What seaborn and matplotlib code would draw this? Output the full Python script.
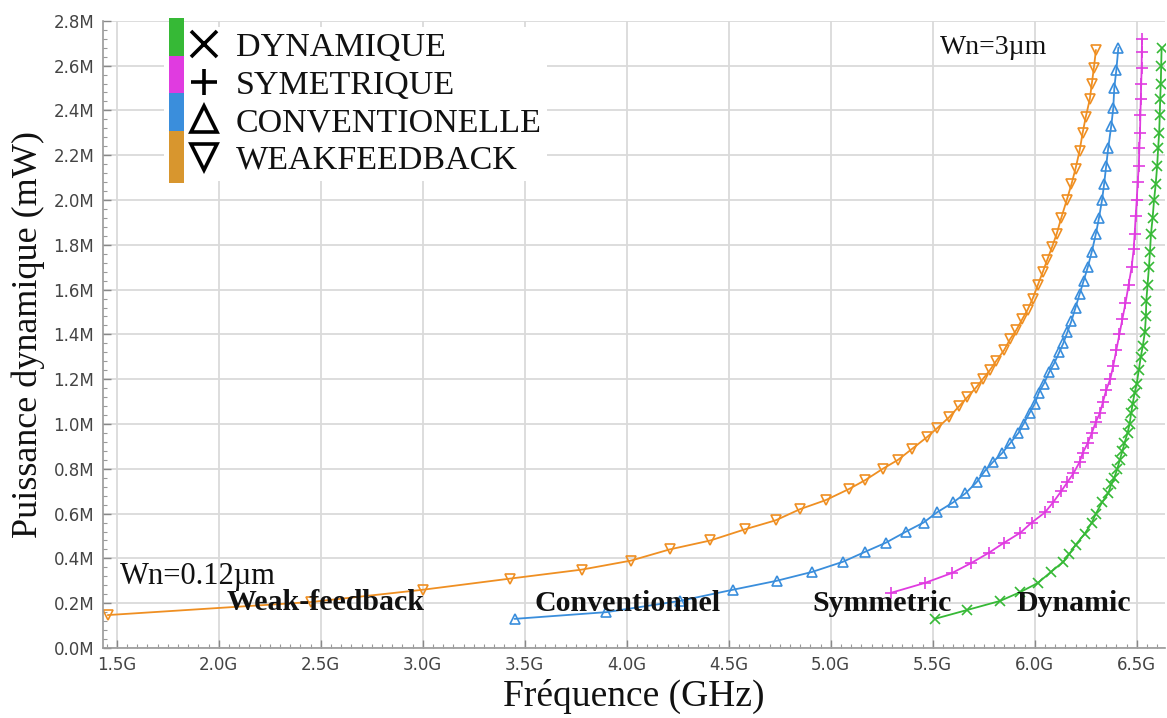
import numpy as np
import pandas as pd
import matplotlib
matplotlib.use("Agg")
import matplotlib.pyplot as plt
import seaborn as sns
from matplotlib.lines import Line2D
from matplotlib.patches import Rectangle
from matplotlib.legend_handler import HandlerBase
from matplotlib.ticker import FuncFormatter, MultipleLocator

# =============================================
# Data (GHz, mW)
# =============================================
wf_freq = [1.456, 2.45, 3.0, 3.43, 3.78, 4.02, 4.21, 4.41, 4.58, 4.73, 4.85, 4.975,
           5.09, 5.17, 5.255, 5.33, 5.40, 5.47, 5.52, 5.58, 5.63, 5.67, 5.71, 5.745,
           5.78, 5.81, 5.85, 5.88, 5.91, 5.94, 5.965, 5.99, 6.015, 6.04, 6.06, 6.085,
           6.108, 6.13, 6.157, 6.18, 6.20, 6.22, 6.235, 6.25, 6.27, 6.28, 6.29, 6.30]
wf_pow = [0.147, 0.205, 0.26, 0.31, 0.35, 0.39, 0.44, 0.48, 0.53, 0.57, 0.62, 0.66,
          0.71, 0.75, 0.80, 0.84, 0.89, 0.94, 0.98, 1.03, 1.08, 1.12, 1.16, 1.20,
          1.24, 1.28, 1.33, 1.38, 1.42, 1.47, 1.51, 1.56, 1.62, 1.68, 1.73, 1.79,
          1.85, 1.92, 2.00, 2.07, 2.14, 2.22, 2.30, 2.37, 2.45, 2.52, 2.59, 2.67]

conv_freq = [3.45, 3.90, 4.26, 4.52, 4.735, 4.91, 5.06, 5.17, 5.27, 5.37, 5.455, 5.52,
             5.60, 5.66, 5.715, 5.755, 5.795, 5.84, 5.88, 5.92, 5.945, 5.975, 6.0, 6.02,
             6.045, 6.07, 6.095, 6.12, 6.14, 6.16, 6.18, 6.20, 6.22, 6.24, 6.26, 6.28,
             6.30, 6.315, 6.33, 6.34, 6.35, 6.36, 6.375, 6.385, 6.39, 6.40, 6.41]
conv_pow = [0.13, 0.16, 0.21, 0.26, 0.30, 0.34, 0.385, 0.43, 0.47, 0.52, 0.56, 0.605,
            0.65, 0.69, 0.74, 0.79, 0.83, 0.87, 0.915, 0.96, 1.00, 1.05, 1.09, 1.14,
            1.18, 1.23, 1.27, 1.32, 1.36, 1.41, 1.46, 1.52, 1.58, 1.64, 1.70, 1.77,
            1.85, 1.92, 2.00, 2.07, 2.15, 2.23, 2.33, 2.41, 2.50, 2.58, 2.68]

sym_freq = [5.294, 5.46, 5.595, 5.69, 5.775, 5.85, 5.93, 5.985, 6.05, 6.09, 6.13, 6.16,
            6.19, 6.22, 6.235, 6.26, 6.28, 6.30, 6.32, 6.335, 6.35, 6.37, 6.385, 6.40,
            6.415, 6.43, 6.445, 6.46, 6.475, 6.485, 6.49, 6.495, 6.50, 6.505, 6.51,
            6.513, 6.516, 6.518, 6.52, 6.522, 6.524, 6.525, 6.526]
sym_pow = [0.246, 0.29, 0.335, 0.38, 0.425, 0.47, 0.515, 0.56, 0.605, 0.65, 0.70, 0.74,
           0.78, 0.83, 0.87, 0.915, 0.96, 1.01, 1.05, 1.10, 1.15, 1.20, 1.26, 1.33,
           1.40, 1.47, 1.54, 1.62, 1.70, 1.78, 1.85, 1.93, 2.00, 2.08, 2.15,
           2.23, 2.30, 2.38, 2.45, 2.52, 2.59, 2.66, 2.72]

dyn_freq = [5.51, 5.67, 5.83, 5.93, 6.015, 6.08, 6.14, 6.17, 6.20, 6.245, 6.28, 6.30,
            6.33, 6.36, 6.375, 6.39, 6.405, 6.417, 6.43, 6.44, 6.455, 6.465, 6.473,
            6.48, 6.49, 6.50, 6.51, 6.52, 6.53, 6.54, 6.545, 6.547, 6.553, 6.56, 6.565,
            6.57, 6.578, 6.585, 6.593, 6.60, 6.605, 6.61, 6.613, 6.615, 6.618, 6.62, 6.622]
dyn_pow = [0.13, 0.17, 0.21, 0.25, 0.29, 0.34, 0.385, 0.42, 0.46, 0.51, 0.56, 0.60,
           0.65, 0.69, 0.73, 0.76, 0.80, 0.84, 0.88, 0.915, 0.96, 1.00, 1.05,
           1.09, 1.14, 1.18, 1.24, 1.30, 1.35, 1.41, 1.48, 1.55, 1.62, 1.70, 1.77,
           1.85, 1.92, 2.00, 2.07, 2.15, 2.23, 2.30, 2.38, 2.45, 2.52, 2.60, 2.68]

legend_labels = ["DYNAMIQUE", "SYMETRIQUE", "CONVENTIONELLE", "WEAKFEEDBACK"]
curve_labels = ["Weak-feedback", "Conventionnel", "Symmetric", "Dynamic"]

c_orange = "#ef8f22"
c_blue = "#3a8edc"
c_magenta = "#e03be0"
c_green = "#36b936"

# =============================================
# Plotting
# =============================================
sns.set_theme(style="whitegrid")
plt.rcParams["font.family"] = ["DejaVu Sans"]

fig, ax = plt.subplots(figsize=(11.67, 7.18), dpi=100)
fig.subplots_adjust(left=0.088, right=0.998, bottom=0.0975, top=0.971)
ax.set_facecolor("white")

series = [
    (wf_freq, wf_pow, c_orange, "v", 6.5),
    (conv_freq, conv_pow, c_blue, "^", 6.5),
    (sym_freq, sym_pow, c_magenta, "+", 8),
    (dyn_freq, dyn_pow, c_green, "x", 6.5),
]
for fr, pw, col, mk, ms in series:
    d = pd.DataFrame({"f": fr, "p": pw})
    sns.lineplot(data=d, x="f", y="p", ax=ax, color=col, sort=False, estimator=None,
                 marker=mk, markersize=ms, markerfacecolor="none",
                 markeredgecolor=col, markeredgewidth=1.2, linewidth=1.3)

ax.set_xlim(1.431, 6.637)
ax.set_ylim(0, 2.8)
ax.xaxis.set_major_locator(MultipleLocator(0.5))
ax.xaxis.set_minor_locator(MultipleLocator(0.05))
ax.yaxis.set_major_locator(MultipleLocator(0.2))
ax.yaxis.set_minor_locator(MultipleLocator(0.04))
ax.xaxis.set_major_formatter(FuncFormatter(lambda v, _: "{:.1f}G".format(v)))
ax.yaxis.set_major_formatter(FuncFormatter(lambda v, _: "{:.1f}M".format(v)))
ax.tick_params(axis="both", which="major", direction="in", length=6, width=1,
               color="#888888", labelsize=12, labelcolor="#444444", pad=6,
               bottom=True, left=True)
ax.tick_params(axis="both", which="minor", direction="in", length=3, width=0.8,
               color="#999999", bottom=True, left=True)
ax.grid(True, which="major", color="#dadada", linewidth=1.3)
ax.grid(False, which="minor")
for s in ["top", "right"]:
    ax.spines[s].set_visible(False)
for s in ["left", "bottom"]:
    ax.spines[s].set_color("#999999")
    ax.spines[s].set_linewidth(1.2)

ax.set_xlabel("Fréquence (GHz)", family="Liberation Serif", fontsize=27, color="#111111", labelpad=3)
ax.set_ylabel("Puissance dynamique (mW)", family="Liberation Serif", fontsize=26, color="#111111", labelpad=6)

# curve annotations
serif = dict(family="Liberation Serif", color="#111111")
ax.text(2.04, 0.205, curve_labels[0], fontsize=21.5, fontweight="bold", va="center", **serif)
ax.text(3.55, 0.20, curve_labels[1], fontsize=21.5, fontweight="bold", va="center", **serif)
ax.text(4.91, 0.20, curve_labels[2], fontsize=21.5, fontweight="bold", va="center", **serif)
ax.text(5.91, 0.20, curve_labels[3], fontsize=21.5, fontweight="bold", va="center", **serif)
ax.text(1.515, 0.317, "Wn=0.12µm", fontsize=22, va="center", **serif)
ax.text(5.534, 2.68, "Wn=3µm", fontsize=20, va="center", **serif)


# legend: coloured strip + black marker
class StripHandler(HandlerBase):
    def create_artists(self, legend, orig_handle, xdescent, ydescent, width, height,
                       fontsize, trans):
        col = orig_handle.strip_color
        ext = 0.42 * fontsize
        rect = Rectangle((-xdescent, -ydescent - ext), 0.42 * fontsize, height + 2 * ext,
                         facecolor=col, edgecolor="none", transform=trans)
        mk = Line2D([-xdescent + 0.42 * fontsize + 0.6 * fontsize],
                    [-ydescent + height / 2], marker=orig_handle.get_marker(),
                    markersize=orig_handle.get_markersize(), color="black",
                    markeredgewidth=orig_handle.get_markeredgewidth(),
                    markerfacecolor="none", linestyle="none", transform=trans)
        return [rect, mk]


handles = []
for mk, col in zip(["x", "+", "^", "v"], [c_green, c_magenta, c_blue, "#d8962e"]):
    h = Line2D([], [], marker=mk, markersize=19, markeredgewidth=2.6, linestyle="none")
    h.strip_color = col
    handles.append(h)

leg = ax.legend(handles, legend_labels, loc="upper left", bbox_to_anchor=(0.058, 0.99),
                handler_map={Line2D: StripHandler()}, frameon=True, framealpha=1,
                facecolor="white", edgecolor="none", fancybox=False, borderpad=0.15,
                labelspacing=0.2, handlelength=1.5, handletextpad=0.45, borderaxespad=0,
                prop={"family": "Liberation Serif", "size": 24.5})
for t in leg.get_texts():
    t.set_color("#111111")

plt.savefig("out.png", dpi=100)
